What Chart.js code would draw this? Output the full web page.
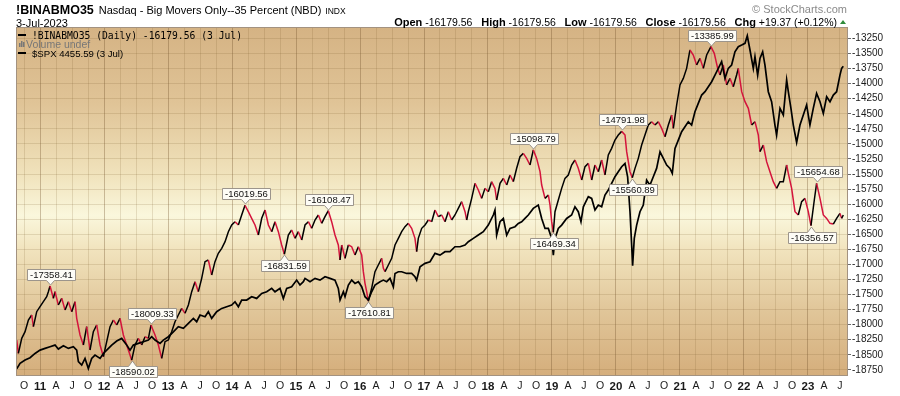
<!DOCTYPE html>
<html><head><meta charset="utf-8">
<script src="https://cdn.jsdelivr.net/npm/chart.js@4/dist/chart.umd.min.js"></script>
<style>
html,body{margin:0;padding:0;background:#fff;}
#wrap{position:relative;width:900px;height:396px;}
canvas{display:block;}
</style></head><body>
<div id="wrap"><canvas id="c" width="900" height="396"></canvas></div>
<script>
// ---- data ----
const binDates = [
2010.635,2010.661,2010.714,2010.766,2010.818,2010.870,2010.896,2010.948,2011.000,2011.052,2011.104,2011.130,2011.156,2011.208,2011.234,2011.286,2011.339,2011.391,2011.443,2011.495,2011.547,2011.573,2011.625,2011.677,2011.729,2011.781,2011.833,2011.885,2011.938,2011.990,
2012.042,2012.094,2012.146,2012.198,2012.250,2012.302,2012.354,2012.406,2012.432,2012.484,2012.536,2012.589,2012.641,2012.693,2012.734,2012.797,2012.849,2012.901,2012.953,2013.005,2013.057,2013.109,2013.161,2013.214,2013.266,2013.318,2013.370,2013.422,2013.474,2013.526,
2013.578,2013.630,2013.682,2013.734,2013.786,2013.839,2013.891,2013.943,2013.995,2014.047,2014.099,2014.151,2014.203,2014.255,2014.307,2014.359,2014.411,2014.464,2014.516,2014.568,2014.620,2014.672,2014.724,2014.776,2014.818,2014.880,2014.932,2014.984,2015.036,2015.089,
2015.141,2015.193,2015.245,2015.297,2015.349,2015.401,2015.453,2015.505,2015.557,2015.609,2015.661,2015.688,2015.714,2015.766,2015.818,2015.870,2015.922,2015.974,2016.026,2016.052,2016.078,2016.104,2016.130,2016.182,2016.234,2016.286,2016.339,2016.365,2016.391,2016.443,
2016.495,2016.547,2016.599,2016.651,2016.703,2016.755,2016.807,2016.859,2016.885,2016.911,2016.964,2017.016,2017.068,2017.120,2017.172,2017.224,2017.276,2017.328,2017.380,2017.432,2017.484,2017.536,2017.589,2017.641,2017.667,2017.693,2017.745,2017.797,2017.849,2017.901,
2017.953,2018.005,2018.057,2018.109,2018.135,2018.188,2018.240,2018.292,2018.344,2018.396,2018.448,2018.500,2018.552,2018.604,2018.656,2018.708,2018.760,2018.813,2018.839,2018.891,2018.943,2018.969,2018.995,2019.021,2019.047,2019.099,2019.151,2019.203,2019.255,2019.307,
2019.359,2019.411,2019.464,2019.516,2019.568,2019.620,2019.672,2019.724,2019.776,2019.828,2019.880,2019.932,2019.984,2020.036,2020.089,2020.141,2020.167,2020.219,2020.255,2020.297,2020.349,2020.401,2020.453,2020.505,2020.557,2020.609,2020.661,2020.714,2020.766,2020.818,
2020.870,2020.896,2020.948,2021.000,2021.052,2021.104,2021.156,2021.208,2021.260,2021.313,2021.365,2021.417,2021.484,2021.536,2021.589,2021.625,2021.677,2021.729,2021.781,2021.833,2021.885,2021.911,2021.964,2022.016,2022.068,2022.120,2022.172,2022.224,2022.250,2022.302,
2022.354,2022.406,2022.458,2022.510,2022.563,2022.615,2022.667,2022.693,2022.745,2022.797,2022.849,2022.901,2022.953,2023.005,2023.047,2023.099,2023.135,2023.188,2023.240,2023.292,2023.344,2023.396,2023.448,2023.500,2023.526,2023.552
];
const binValues = [
-18255,-18476,-18227,-18117,-17923,-17840,-18034,-17785,-17702,-17619,-17536,-17453,-17358.41,-17563,-17453,-17674,-17563,-17757,-17619,-17785,-17619,-17895,-18172,-18338,-18034,-18421,-18117,-18006,-18338,-18532,
-18283,-18034,-17923,-18006,-17895,-18172,-18338,-18504,-18590.02,-18338,-18227,-18338,-18200,-18227,-18009.33,-18172,-18338,-18559,-18283,-18255,-18117,-17951,-17840,-17729,-17812,-17674,-17453,-17287,-17453,-17231,
-16955,-16927,-17176,-16955,-16816,-16733,-16623,-16457,-16346,-16291,-16346,-16180,-16019.56,-16125,-16235,-16346,-16512,-16235,-16097,-16346,-16457,-16291,-16457,-16678,-16831.59,-16512,-16429,-16567,-16457,-16595,
-16346,-16291,-16401,-16263,-16180,-16318,-16208,-16108.47,-16291,-16512,-16678,-16927,-16678,-16899,-16678,-16706,-16844,-16706,-16844,-17121,-17314,-17453,-17610.81,-17397,-17121,-17010,-16899,-17065,-17121,-17010,
-16899,-16678,-16567,-16457,-16374,-16318,-16401,-16567,-16789,-16567,-16401,-16346,-16263,-16291,-16097,-16208,-16180,-16291,-16125,-16263,-16180,-16070,-15959,-16125,-16263,-16125,-15904,-15655,-15765,-15904,
-15738,-15793,-15627,-15738,-15931,-15655,-15572,-15682,-15516,-15627,-15405,-15212,-15157,-15240,-15350,-15098.79,-15240,-15461,-15682,-15904,-15848,-16014,-16291,-16469.34,-16125,-15931,-15738,-15572,-15516,-15350,
-15267,-15405,-15599,-15378,-15323,-15599,-15350,-15461,-15267,-15516,-15184,-15074,-14935,-14852,-14791.98,-14852,-15129,-15461,-15560.89,-15406,-15240,-15018,-14852,-14686,-14631,-14686,-14631,-14742,-14880,-14686,
-14520,-14742,-14354,-14022,-13912,-13746,-13441,-13524,-13690,-13580,-13746,-13524,-13385.99,-13497,-13746,-13856,-13690,-14022,-13912,-14050,-13856,-13746,-14133,-14299,-14410,-14686,-14631,-14852,-15129,-15018,
-15295,-15461,-15627,-15738,-15627,-15627,-15350,-15489,-15738,-16125,-16180,-15959,-15904,-16125,-16356.57,-15931,-15654.68,-15904,-16180,-16236,-16318,-16330,-16236,-16153,-16236,-16179.56
];
const spxDates = [
2010.635,2010.688,2010.766,2010.844,2010.922,2011.000,2011.078,2011.156,2011.234,2011.286,2011.365,2011.443,2011.521,2011.573,2011.599,2011.651,2011.703,2011.755,2011.807,2011.859,2011.938,2011.990,2012.042,2012.120,2012.198,2012.276,2012.354,2012.406,2012.458,2012.536,
2012.615,2012.693,2012.745,2012.797,2012.875,2012.927,2013.005,2013.083,2013.161,2013.240,2013.318,2013.396,2013.448,2013.500,2013.578,2013.630,2013.682,2013.760,2013.839,2013.917,2013.995,2014.047,2014.099,2014.151,2014.229,2014.307,2014.385,2014.464,2014.542,2014.620,
2014.672,2014.750,2014.802,2014.854,2014.932,2015.010,2015.062,2015.115,2015.141,2015.219,2015.297,2015.375,2015.453,2015.531,2015.609,2015.661,2015.688,2015.740,2015.766,2015.818,2015.870,2015.922,2015.974,2016.026,2016.078,2016.130,2016.182,2016.234,2016.313,2016.365,
2016.417,2016.469,2016.521,2016.547,2016.599,2016.651,2016.729,2016.807,2016.859,2016.885,2016.938,2017.016,2017.094,2017.172,2017.250,2017.328,2017.406,2017.484,2017.563,2017.641,2017.693,2017.771,2017.849,2017.927,2018.005,2018.083,2018.109,2018.135,2018.188,2018.240,
2018.292,2018.344,2018.422,2018.474,2018.526,2018.578,2018.630,2018.708,2018.786,2018.839,2018.891,2018.943,2018.995,2019.021,2019.047,2019.099,2019.151,2019.229,2019.307,2019.359,2019.411,2019.453,2019.490,2019.516,2019.568,2019.620,2019.672,2019.724,2019.776,2019.828,
2019.880,2019.932,2019.984,2020.036,2020.089,2020.141,2020.182,2020.219,2020.245,2020.260,2020.286,2020.323,2020.375,2020.427,2020.479,2020.531,2020.583,2020.635,2020.688,2020.740,2020.792,2020.844,2020.880,2020.922,2020.974,2021.026,2021.078,2021.130,2021.182,2021.234,
2021.286,2021.339,2021.391,2021.443,2021.495,2021.547,2021.599,2021.651,2021.703,2021.755,2021.807,2021.859,2021.911,2021.964,2022.016,2022.052,2022.094,2022.146,2022.172,2022.214,2022.250,2022.292,2022.328,2022.380,2022.432,2022.484,2022.510,2022.563,2022.615,2022.667,
2022.693,2022.734,2022.771,2022.823,2022.875,2022.927,2022.979,2023.031,2023.083,2023.135,2023.188,2023.240,2023.292,2023.344,2023.396,2023.448,2023.500,2023.526,2023.552
];
const spxValues = [
1090,1150,1187,1213,1261,1298,1317,1336,1354,1310,1347,1317,1336,1298,1169,1132,1206,1094,1206,1243,1206,1261,1298,1354,1399,1428,1354,1298,1354,1373,
1391,1410,1447,1410,1373,1410,1447,1502,1558,1540,1595,1651,1614,1688,1669,1725,1651,1725,1762,1781,1799,1836,1781,1855,1855,1892,1873,1929,1947,1985,
1947,1985,1873,1985,2003,2077,2022,2059,2096,2059,2096,2077,2114,2096,2077,1985,1855,1947,1892,2022,2077,2040,2059,2003,1892,1855,1947,2022,2059,2077,
2059,2096,2003,2151,2170,2170,2151,2151,2114,2077,2226,2263,2281,2374,2355,2393,2393,2448,2448,2467,2504,2541,2578,2615,2689,2801,2856,2578,2726,2763,
2578,2652,2671,2708,2726,2763,2801,2875,2912,2763,2652,2652,2541,2355,2541,2652,2689,2763,2801,2893,2838,2726,2893,2930,3005,2986,2856,2912,2893,3023,
3079,3153,3227,3283,3338,3375,3227,2838,2467,2237,2541,2689,2838,2912,3190,3134,3227,3320,3505,3431,3357,3320,3264,3542,3635,3728,3783,3839,3802,3950,
4043,4136,4173,4229,4284,4358,4433,4507,4321,4433,4470,4618,4674,4692,4711,4796,4637,4433,4562,4358,4544,4618,4470,4173,4062,3802,3691,3987,3913,4303,
4173,3987,3802,3609,3802,3913,4025,3802,3987,4154,4062,3932,4117,4062,4136,4173,4358,4433,4455.59
];
// right-axis tick labels
const yTickValues = [-13250,-13500,-13750,-14000,-14250,-14500,-14750,-15000,-15250,-15500,-15750,-16000,-16250,-16500,-16750,-17000,-17250,-17500,-17750,-18000,-18250,-18500,-18750];
// bottom-axis tick labels
const yearLabels = ['11','12','13','14','15','16','17','18','19','20','21','22','23'];
const quarterLetters = ['A','J','O'];
// peak / trough annotations
const annDates  = [2011.156,2012.432,2012.734,2014.203,2014.818,2015.505,2016.130,2018.708,2019.021,2020.089,2020.255,2021.484,2023.135,2023.047];
const annValues = [-17358.41,-18590.02,-18009.33,-16019.56,-16831.59,-16108.47,-17610.81,-15098.79,-16469.34,-14791.98,-15560.89,-13385.99,-15654.68,-16356.57];
const annPlace  = ['up','down','up','up','down','up','down','up','down','up','down','up','up','down'];

// ---- layout / style constants ----
const X_MIN = 2010.64, X_MAX = 2023.61;
const Y_MIN = -18836, Y_MAX = -13076;
const SPX_MIN = 1021, SPX_MAX = 4882;
const RED = '#d4143c', BLACK = '#000000';
const SANS = '"Liberation Sans", Arial, sans-serif';
const MONO = '"DejaVu Sans Mono", "Liberation Mono", monospace';
const GRID_MINOR = 'rgba(120,90,40,0.17)';
const GRID_MAJOR = 'rgba(110,80,40,0.34)';

const xTicks = [{value:2010.75,label:'O',major:false}];
yearLabels.forEach((lab,i)=>{
  const yr = 2011+i;
  xTicks.push({value:yr,label:lab,major:true});
  quarterLetters.forEach((q,j)=>{
    const v = yr+0.25*(j+1);
    if (v <= X_MAX) xTicks.push({value:v,label:q,major:false});
  });
});
const xLabelMap = new Map(xTicks.map(t=>[t.value,t]));

const binPoints = binDates.map((d,i)=>({x:d,y:binValues[i]}));
const spxPoints = spxDates.map((d,i)=>({x:d,y:spxValues[i]}));

const bgPlugin = {
  id:'bg',
  beforeDraw(chart){
    const {ctx, chartArea:a} = chart;
    ctx.save();
    ctx.fillStyle='#ffffff'; ctx.fillRect(0,0,chart.width,chart.height);
    const g = ctx.createLinearGradient(0,a.top,0,a.bottom);
    g.addColorStop(0,'#d5b384');
    g.addColorStop(0.22,'#e0c497');
    g.addColorStop(0.42,'#f0e2bb');
    g.addColorStop(0.54,'#faf7dc');
    g.addColorStop(0.64,'#f1e3bd');
    g.addColorStop(0.82,'#e0c598');
    g.addColorStop(1,'#d5ae7c');
    ctx.fillStyle=g; ctx.fillRect(a.left,a.top,a.right-a.left,a.bottom-a.top);
    ctx.restore();
  }
};

const overlayPlugin = {
  id:'overlay',
  afterDatasetsDraw(chart){
    const {ctx, chartArea:a} = chart;
    const xs = chart.scales.x, ys = chart.scales.y;
    ctx.save();
    // plot border
    ctx.strokeStyle='#a39280'; ctx.lineWidth=1;
    ctx.strokeRect(a.left-0.5,a.top-0.5,a.right-a.left+1,a.bottom-a.top+1);
    // annotations
    ctx.font = '9.5px '+SANS;
    ctx.textBaseline='middle'; ctx.textAlign='center';
    annDates.forEach((d,i)=>{
      const px = Math.round(xs.getPixelForValue(d))+0.5;
      const py = Math.round(ys.getPixelForValue(annValues[i]));
      const txt = annValues[i].toFixed(2);
      const w = Math.round(ctx.measureText(txt).width)+5, h = 11;
      const bx = Math.round(px - w/2)+0.5;
      let top, bottom, tip, base;
      if (annPlace[i]==='up'){ tip = py-1; base = tip-5; bottom = base; top = base-h; }
      else { tip = py+1; base = tip+5; top = base; bottom = base+h; }
      top = Math.round(top)+0.5; bottom = Math.round(bottom)+0.5;
      ctx.beginPath();
      if (annPlace[i]==='up'){
        ctx.moveTo(bx,top); ctx.lineTo(bx+w,top); ctx.lineTo(bx+w,bottom);
        ctx.lineTo(px+4,bottom); ctx.lineTo(px,tip); ctx.lineTo(px-4,bottom); ctx.lineTo(bx,bottom);
      } else {
        ctx.moveTo(bx,bottom); ctx.lineTo(bx+w,bottom); ctx.lineTo(bx+w,top);
        ctx.lineTo(px+4,top); ctx.lineTo(px,tip); ctx.lineTo(px-4,top); ctx.lineTo(bx,top);
      }
      ctx.closePath();
      ctx.fillStyle='#fdfcf6'; ctx.fill();
      ctx.strokeStyle='#9c958c'; ctx.stroke();
      ctx.fillStyle='#111';
      ctx.fillText(txt, bx+w/2, (top+bottom)/2+0.5);
    });
    // in-plot legend
    ctx.textAlign='left'; ctx.textBaseline='alphabetic';
    ctx.fillStyle='#000';
    ctx.fillRect(a.left+1,34,8,2);
    ctx.font='9.7px '+MONO;
    ctx.fillText('!BINABMO35 (Daily) -16179.56 (3 Jul)', a.left+15, 39);
    ctx.fillStyle='#777';
    ctx.fillRect(a.left+2,43,1.5,4); ctx.fillRect(a.left+4,41,1.5,6); ctx.fillRect(a.left+6,42,1.5,5);
    ctx.font='10.5px '+SANS;
    ctx.fillText('Volume undef', a.left+9, 48);
    ctx.fillStyle='#000';
    ctx.fillRect(a.left+1,52,8,2);
    ctx.font='9.6px '+SANS;
    ctx.fillText('$SPX 4455.59 (3 Jul)', a.left+15, 57);
    ctx.restore();
  },
  afterDraw(chart){
    const ctx = chart.ctx;
    ctx.save();
    ctx.textBaseline='alphabetic'; ctx.textAlign='left'; ctx.fillStyle='#000';
    ctx.font='bold 12.5px '+SANS;
    ctx.fillText('!BINABMO35', 16, 13.5);
    let x = 16 + ctx.measureText('!BINABMO35').width + 5;
    ctx.font='11px '+SANS;
    ctx.fillText('Nasdaq - Big Movers Only--35 Percent (NBD)', x, 13.5);
    x += ctx.measureText('Nasdaq - Big Movers Only--35 Percent (NBD)').width + 4;
    ctx.font='8.5px '+SANS;
    ctx.fillText('INDX', x, 13.5);
    ctx.font='11px '+SANS;
    ctx.fillText('3-Jul-2023', 16, 26.5);
    // copyright
    ctx.fillStyle='#8a8a8a'; ctx.font='11px '+SANS; ctx.textAlign='right';
    ctx.fillText('\u00A9 StockCharts.com', 847, 12.5);
    // OHLC line
    const parts = [['Open',1],[' -16179.56   ',0],['High',1],[' -16179.56   ',0],['Low',1],[' -16179.56   ',0],['Close',1],[' -16179.56   ',0],['Chg',1],[' +19.37 (+0.12%)',0]];
    const fB='bold 11px '+SANS, fR='10.5px '+SANS;
    let tot=0;
    parts.forEach(p=>{ ctx.font=p[1]?fB:fR; tot+=ctx.measureText(p[0]).width; });
    ctx.textAlign='left'; ctx.fillStyle='#000';
    let px = 837 - tot;
    parts.forEach(p=>{ ctx.font=p[1]?fB:fR; ctx.fillText(p[0], px, 26); px += ctx.measureText(p[0]).width; });
    ctx.fillStyle='#2e8b3a';
    ctx.beginPath(); ctx.moveTo(840,24); ctx.lineTo(846,24); ctx.lineTo(843,20); ctx.closePath(); ctx.fill();
    ctx.restore();
  }
};

new Chart(document.getElementById('c'), {
  type:'line',
  data:{ datasets:[
    { label:'$SPX', data:spxPoints, yAxisID:'y2', borderColor:BLACK, borderWidth:1.7, pointRadius:0, tension:0, fill:false },
    { label:'!BINABMO35', data:binPoints, yAxisID:'y', borderColor:BLACK, borderWidth:1.5, pointRadius:0, tension:0, fill:false,
      segment:{ borderColor: c => (c.p1.parsed.y < c.p0.parsed.y ? RED : BLACK) } }
  ]},
  options:{
    responsive:false, animation:false, devicePixelRatio:1,
    layout:{ padding:{ left:17, top:28, right:0, bottom:0 } },
    plugins:{ legend:{display:false}, tooltip:{enabled:false}, title:{display:false} },
    scales:{
      x:{
        type:'linear', min:X_MIN, max:X_MAX,
        afterBuildTicks: s => { s.ticks = xTicks.map(t=>({value:t.value})); },
        afterFit: s => { s.height = 21; },
        border:{display:false},
        grid:{ drawTicks:false, lineWidth:1,
          color: c => (c.tick && xLabelMap.get(c.tick.value) && xLabelMap.get(c.tick.value).major) ? GRID_MAJOR : GRID_MINOR },
        ticks:{ autoSkip:false, maxRotation:0, minRotation:0, padding:5, color:'#1a1a1a',
          callback: v => (xLabelMap.get(v) ? xLabelMap.get(v).label : ''),
          font: c => { const t = c.tick && xLabelMap.get(c.tick.value); return {family:SANS, size: t && t.major ? 11.5 : 10.5, weight: t && t.major ? 'bold' : 'normal'}; } }
      },
      y:{
        position:'right', min:Y_MIN, max:Y_MAX,
        afterBuildTicks: s => { s.ticks = yTickValues.map(v=>({value:v})); },
        afterFit: s => { s.width = 53; },
        border:{display:false},
        grid:{ color:GRID_MINOR, drawTicks:true, tickLength:4, tickColor:'#6b6b6b' },
        ticks:{ padding:1, color:'#1a1a1a', font:{family:SANS, size:10}, callback: v => String(v) }
      },
      y2:{ display:false, position:'right', min:SPX_MIN, max:SPX_MAX }
    }
  },
  plugins:[bgPlugin, overlayPlugin]
});
</script>
</body></html>
